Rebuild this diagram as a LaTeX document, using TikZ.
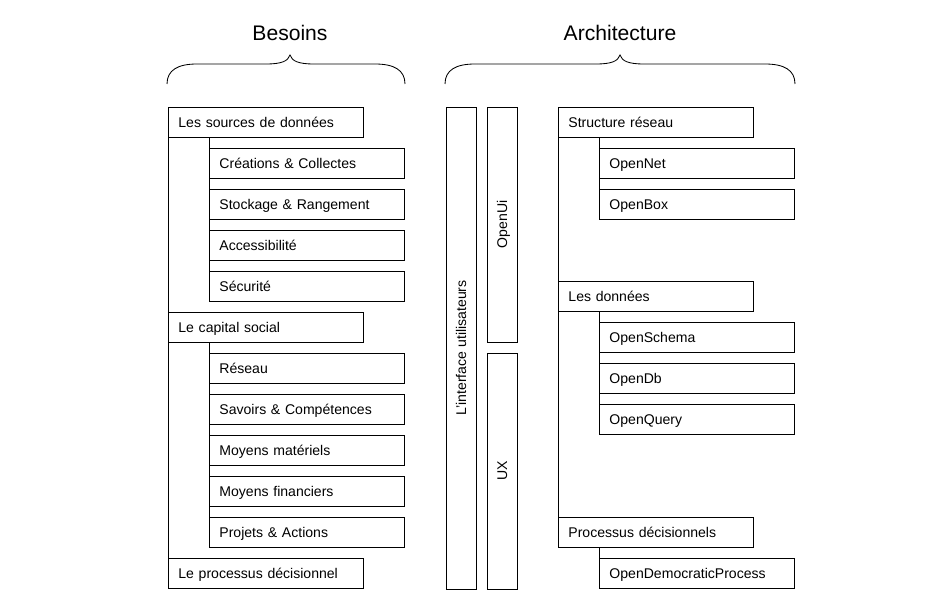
\documentclass[tikz,border=0pt]{standalone}
\usepackage{fontspec}
\setmainfont{Liberation Sans}
\usepackage{tikz}
\usetikzlibrary{calc, positioning}

\begin{document}
\begin{tikzpicture}[x=0.025cm, y=-0.025cm, line width=0.6pt,
    item/.style={draw, anchor=north west, minimum width=4.875cm, minimum height=0.75cm,
        text width=4.375cm, inner xsep=0.25cm, align=left, text height=7.2pt, text depth=0pt,
        font=\fontsize{10}{12}\selectfont},
    col/.style={draw, rotate=90, minimum height=0.75cm, text height=7.2pt, text depth=0pt,
        font=\fontsize{10}{12}\selectfont},
    title/.style={font=\fontsize{15}{18}\selectfont}]
                            \useasboundingbox (0, 0) rectangle (946, 615);

                            % Besoins
                            \node[title] (bes) at (290, 33) {Besoins};
                            \draw (167, 84) .. controls (167, 70) and (178, 64) .. (197, 64) -- (266, 64)
                                .. controls (282, 64) and (288, 61) .. (290, 55)
                                .. controls (292, 61) and (298, 64) .. (314, 64) -- (375, 64)
                                .. controls (394, 64) and (405, 70) .. (405, 84);

                            \node[item] (src) at (168, 107) {Les sources de données};
                            \node[item] (cre) at (209, 148) {Créations \& Collectes};
                            \node[item] (sto) at (209, 189) {Stockage \& Rangement};
                            \node[item] (acc) at (209, 230) {Accessibilité};
                            \node[item] (sec) at (209, 271) {Sécurité};

                            \node[item] (cap) at (168, 312) {Le capital social};
                            \node[item] (res) at (209, 353) {Réseau};
                            \node[item] (sav) at (209, 394) {Savoirs \& Compétences};
                            \node[item] (mat) at (209, 435) {Moyens matériels};
                            \node[item] (fin) at (209, 476) {Moyens financiers};
                            \node[item] (pro) at (209, 517) {Projets \& Actions};

                            \node[item] (dec) at (168, 558) {Le processus décisionnel};

                            \draw (src.south west) -- (dec.north west);
                            \draw (src.south -| cre.west) -- (sec.south west);
                            \draw (cap.south -| res.west) -- (pro.south west);

                            % Architecture
                            \node[title] (arc) at (620, 33) {Architecture};
                            \draw (445, 84) .. controls (445, 70) and (456, 64) .. (475, 64) -- (596, 64)
                                .. controls (612, 64) and (618, 61) .. (620, 55)
                                .. controls (622, 61) and (628, 64) .. (644, 64) -- (765, 64)
                                .. controls (784, 64) and (795, 70) .. (795, 84);

                            \node[col, minimum width=12.05cm] (ui) at (461, 348) {L'interface utilisateurs};
                            \node[col, minimum width=5.875cm] (oui) at (502, 224.5) {OpenUi};
                            \node[col, minimum width=5.9cm] (ux) at (502, 471) {UX};

                            \node[item] (str) at (558, 107) {Structure réseau};
                            \node[item] (net) at (599, 148) {OpenNet};
                            \node[item] (box) at (599, 189) {OpenBox};

                            \node[item] (don) at (558, 281) {Les données};
                            \node[item] (sch) at (599, 322) {OpenSchema};
                            \node[item] (db) at (599, 363) {OpenDb};
                            \node[item] (qry) at (599, 404) {OpenQuery};

                            \node[item] (pd) at (558, 517) {Processus décisionnels};
                            \node[item] (odp) at (599, 558) {OpenDemocraticProcess};

                            \draw (str.south west) -- (pd.north west);
                            \draw (str.south -| net.west) -- (box.south west);
                            \draw (don.south -| sch.west) -- (qry.south west);
                            \draw (pd.south -| odp.west) -- (odp.north west);
                        \end{tikzpicture}
\end{document}
